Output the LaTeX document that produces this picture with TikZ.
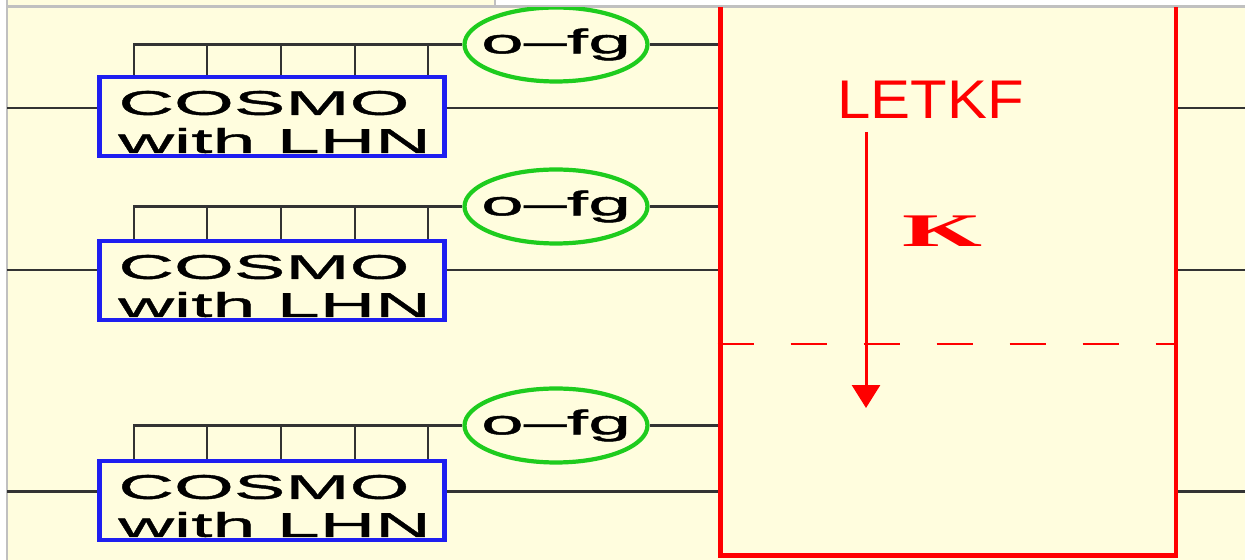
\documentclass[tikz,border=0pt]{standalone}
\usepackage{fontspec}
\setmainfont{Liberation Sans}
\newfontfamily\modelfont[FakeStretch=2.25, FakeBold=1.2]{Liberation Sans}
\newfontfamily\titlefont[FakeStretch=1.1]{Liberation Sans}
\newfontfamily\gainfont[FakeStretch=2.2]{Liberation Serif}
\usetikzlibrary{shapes.geometric,arrows.meta}

\definecolor{panel}{HTML}{FFFDDE}
\definecolor{framegray}{HTML}{C0C0C0}
\definecolor{wiregray}{HTML}{333333}
\definecolor{cosmoblue}{HTML}{1E1EF0}
\definecolor{ofggreen}{HTML}{1ECC1E}
\definecolor{letkfred}{HTML}{FF0000}

\tikzset{
  wire/.style={draw=wiregray, line width=1.3pt},
  model/.style={draw=cosmoblue, line width=2.6pt, fill=panel, minimum width=6.9cm, minimum height=1.58cm, inner sep=0pt},
  modeltext/.style={font=\modelfont\fontsize{19.5}{21.6}\selectfont, align=left, inner sep=0pt, anchor=west},
  ofg/.style={ellipse, draw=ofggreen, line width=2.4pt, fill=panel, minimum width=3.66cm, minimum height=1.48cm, inner sep=0pt, font=\modelfont\fontsize{19.5}{22}\selectfont},
  filter/.style={draw=letkfred, line width=2.8pt, minimum width=9.12cm, minimum height=11.52cm, inner sep=0pt},
}

\begin{document}
\begin{tikzpicture}[x=0.02cm, y=-0.02cm]
  \useasboundingbox (0,0) rectangle (1245,560);

  % Fondo y marco
  \fill[white] (0,0) rectangle (1245,560);
  \fill[panel] (7,0) rectangle (495,6.5);
  \fill[panel] (7,6.5) rectangle (1245,560);
  \draw[framegray, line width=1.2pt] (7,0) -- (7,560) (495,0) -- (495,6.5) (7,6.5) -- (1245,6.5);

  \begin{scope}
    \clip (7,7.5) rectangle (1245,560);

    % Filtro
    \node[filter] (flt) at (948,268) {};
    \node[font=\titlefont\fontsize{31}{36}\selectfont, text=letkfred, inner sep=0pt] (title) at (930.5,99.5) {LETKF};
    \coordinate (split) at (948,344);
    \draw[letkfred, line width=1.4pt, dash pattern=on 0.72cm off 0.74cm] (flt.west |- split) -- (flt.east |- split);
    \coordinate (kfrom) at (866,132);
    \coordinate (kto) at (866,408);
    \draw[letkfred, line width=1.7pt, -{Triangle[length=0.46cm, width=0.56cm]}] (kfrom) -- (kto);
    \node[font=\gainfont\bfseries\fontsize{26.6}{30}\selectfont, text=letkfred, inner sep=0pt] (gain) at (942.5,231.5) {K};

    % Miembro 1
    \node[model] (box1) at (272,116.5) {};
    \node[modeltext] (txt1) at (118,122) {COSMO\\with LHN};
    \node[ofg] (ofg1) at (556,44.5) {\makebox[0pt]{o–fg}};
    \coordinate (in1) at (7,108);
    \coordinate (out1) at (1245,108);
    \draw[wire] (in1) -- (in1 -| box1.west);
    \draw[wire] (in1 -| box1.east) -- (in1 -| flt.west);
    \draw[wire] (flt.east |- in1) -- (out1);
    \draw[wire] (ofg1.east) -- (ofg1.east -| flt.west);
    \foreach \t in {37,110,184,258,331}
      \draw[wire] (box1.north west) ++(\t,0) |- (ofg1.west);

    % Miembro 2
    \node[model] (box2) at (272,280.5) {};
    \node[modeltext] (txt2) at (118,286) {COSMO\\with LHN};
    \node[ofg] (ofg2) at (556,206.5) {\makebox[0pt]{o–fg}};
    \coordinate (in2) at (7,270);
    \coordinate (out2) at (1245,270);
    \draw[wire] (in2) -- (in2 -| box2.west);
    \draw[wire] (in2 -| box2.east) -- (in2 -| flt.west);
    \draw[wire] (flt.east |- in2) -- (out2);
    \draw[wire] (ofg2.east) -- (ofg2.east -| flt.west);
    \foreach \t in {37,110,184,258,331}
      \draw[wire] (box2.north west) ++(\t,0) |- (ofg2.west);

    % Miembro 3
    \node[model] (box3) at (272,500.5) {};
    \node[modeltext] (txt3) at (118,506) {COSMO\\with LHN};
    \node[ofg] (ofg3) at (556,425.5) {\makebox[0pt]{o–fg}};
    \coordinate (in3) at (7,491.5);
    \coordinate (out3) at (1245,491.5);
    \draw[wire] (in3) -- (in3 -| box3.west);
    \draw[wire] (in3 -| box3.east) -- (in3 -| flt.west);
    \draw[wire] (flt.east |- in3) -- (out3);
    \draw[wire] (ofg3.east) -- (ofg3.east -| flt.west);
    \foreach \t in {37,110,184,258,331}
      \draw[wire] (box3.north west) ++(\t,0) |- (ofg3.west);
  \end{scope}
\end{tikzpicture}
\end{document}
